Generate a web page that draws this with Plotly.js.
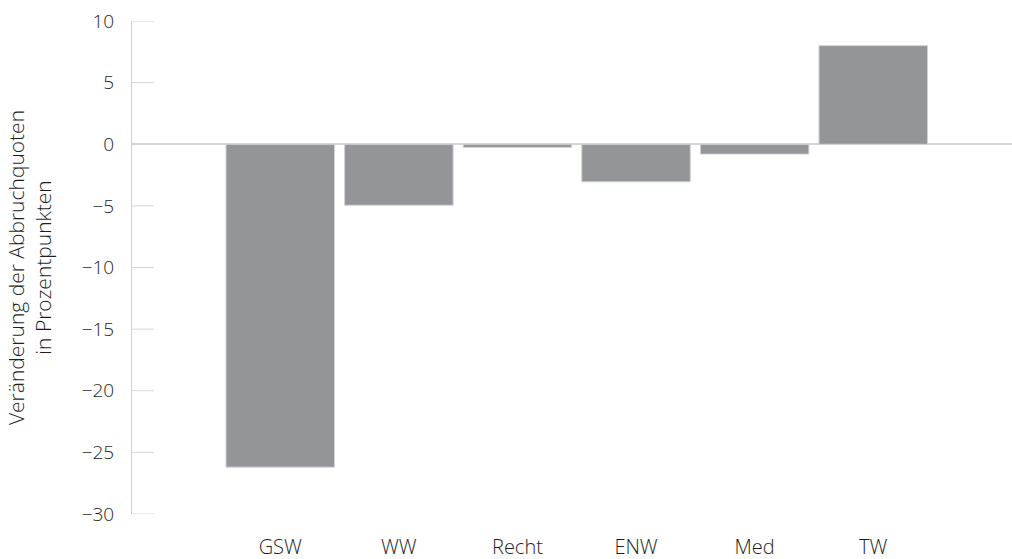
<!DOCTYPE html>
<html>
<head>
<meta charset="utf-8">
<script src="https://cdn.plot.ly/plotly-3.0.1.min.js"></script>
<style>html,body{margin:0;padding:0;background:#fff;}#chart{width:1012px;height:559px;}</style>
</head>
<body>
<div id="chart"></div>
<script>
const categories = ["GSW", "WW", "Recht", "ENW", "Med", "TW"];
const values = [-26.2, -4.95, -0.25, -3.05, -0.8, 8.0];
const yTicks = [-30, -25, -20, -15, -10, -5, 0, 5, 10];
const yTickText = ["\u221230", "\u221225", "\u221220", "\u221215", "\u221210", "\u22125", "0", "5", "10"];
const yTitle = "Veränderung der Abbruchquoten<br>in Prozentpunkten";

const font = "Open Sans, Noto Sans, sans-serif";
const txt = "#1e1e1e";

// short tick marks to the right of the y axis line, one per tick value
const tickShapes = yTicks.map(v => ({
  type: "line", xref: "paper", yref: "y",
  x0: 0, x1: 0.025, y0: v, y1: v,
  line: {color: "#d6d6d6", width: 1},
  layer: "below"
}));

Plotly.newPlot("chart", [{
  type: "bar",
  x: categories,
  y: values,
  marker: {color: "#939598", line: {color: "#d2d3d5", width: 1}},
  hoverinfo: "x+y"
}], {
  width: 1012,
  height: 559,
  margin: {l: 132, r: 0, t: 21, b: 45},
  paper_bgcolor: "#ffffff",
  plot_bgcolor: "#ffffff",
  showlegend: false,
  bargap: 0.085,
  font: {family: font, color: txt, size: 19, weight: 300},
  shapes: tickShapes,
  xaxis: {
    type: "category",
    range: [-1.25, 6.17],
    showgrid: false,
    zeroline: false,
    showline: false,
    ticks: "",
    ticklabelstandoff: 19,
    tickfont: {family: font, size: 20, color: txt, weight: 300},
    fixedrange: true
  },
  yaxis: {
    range: [-30, 10],
    tickvals: yTicks,
    ticktext: yTickText,
    showgrid: false,
    zeroline: true,
    zerolinecolor: "#d4d4d4",
    zerolinewidth: 2,
    showline: true,
    linecolor: "#d0d0d0",
    linewidth: 1,
    ticks: "",
    ticklabelstandoff: 13,
    tickfont: {family: font, size: 19, color: txt, weight: 300},
    title: {text: yTitle, font: {family: font, size: 21, color: txt, weight: 300}, standoff: 24},
    fixedrange: true
  }
}, {displayModeBar: false, staticPlot: true});
</script>
</body>
</html>
